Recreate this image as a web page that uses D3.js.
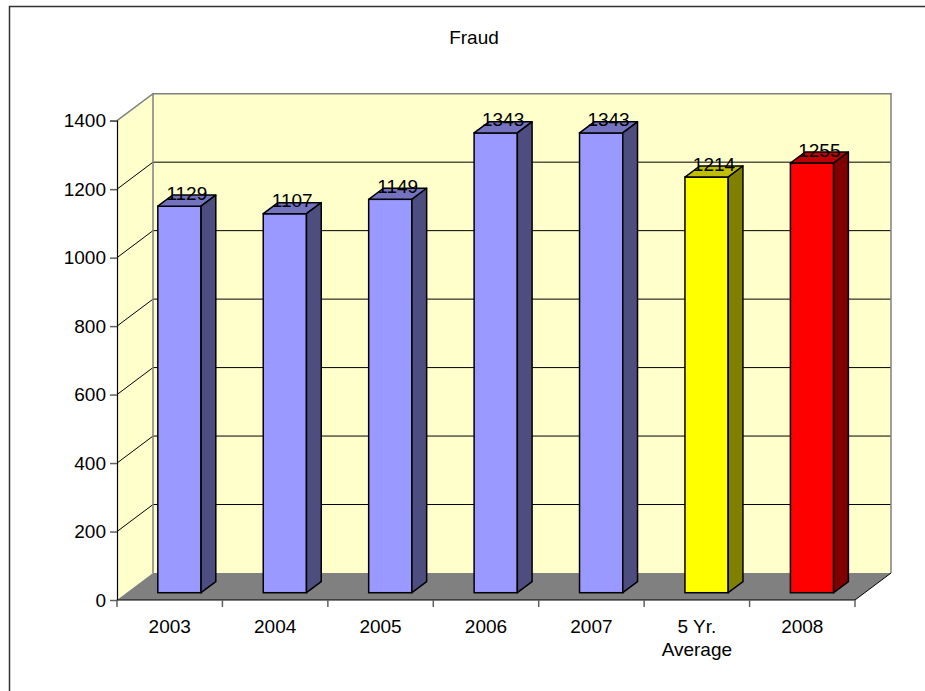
<!DOCTYPE html>
<html>
<head>
<meta charset="utf-8">
<script src="https://cdn.jsdelivr.net/npm/d3@7/dist/d3.min.js"></script>
<style>
  html, body { margin: 0; padding: 0; background: #fff; }
  svg { display: block; font-family: "Liberation Sans", Arial, sans-serif; }
</style>
</head>
<body>
<svg id="chart" width="925" height="691"></svg>
<script>
const title = "Fraud";
const categories = ["2003", "2004", "2005", "2006", "2007", "5 Yr.\nAverage", "2008"];
const values = [1129, 1107, 1149, 1343, 1343, 1214, 1255];
const frontColors = ["#9999FF", "#9999FF", "#9999FF", "#9999FF", "#9999FF", "#FFFF00", "#FF0000"];
const topColors = ["#7373BF", "#7373BF", "#7373BF", "#7373BF", "#7373BF", "#BFBF00", "#BF0000"];
const sideColors = ["#4D4D80", "#4D4D80", "#4D4D80", "#4D4D80", "#4D4D80", "#808000", "#800000"];
const yTicks = [0, 200, 400, 600, 800, 1000, 1200, 1400];

const svg = d3.select("#chart");
const FS = 19;

// outer border
svg.append("rect").attr("x", 9.5).attr("y", 6.5).attr("width", 1000).attr("height", 1000)
  .attr("fill", "none").attr("stroke", "#333").attr("stroke-width", 1.5);

// plot geometry
const x0 = 117, x1 = 855, yBottom = 600, yTop = 120.7;
const DX = 36, DY = 27;          // full depth offset
const z0 = 0.27, z1 = 0.68;      // bar depth range (fraction of full depth)

const x = d3.scaleBand().domain(categories).range([x0, x1]).paddingInner(0.59).paddingOuter(0.295);
const y = d3.scaleLinear().domain([0, 1400]).range([yBottom, yTop]);

const yMax = y(1400);

// side wall (left)
svg.append("polygon")
  .attr("points", [[x0, yBottom], [x0, yMax], [x0 + DX, yMax - DY], [x0 + DX, yBottom - DY]].map(p => p.join(",")).join(" "))
  .attr("fill", "#FFFFCC");
// back wall
svg.append("rect")
  .attr("x", x0 + DX).attr("y", yMax - DY)
  .attr("width", x1 - x0).attr("height", yBottom - yMax)
  .attr("fill", "#FFFFCC");

// gridlines on back wall and side wall
const grid = yTicks.filter(v => v > 0 && v < 1400);
svg.append("g").selectAll("line").data(grid).join("line")
  .attr("x1", x0 + DX).attr("x2", x1 + DX)
  .attr("y1", d => y(d) - DY).attr("y2", d => y(d) - DY)
  .attr("stroke", "#000").attr("stroke-width", 1);
svg.append("g").selectAll("line").data(grid).join("line")
  .attr("x1", x0).attr("x2", x0 + DX)
  .attr("y1", d => y(d)).attr("y2", d => y(d) - DY)
  .attr("stroke", "#000").attr("stroke-width", 1);

// wall outlines (gray)
svg.append("path")
  .attr("d", `M${x0},${yMax} L${x0 + DX},${yMax - DY} L${x1 + DX},${yMax - DY} L${x1 + DX},${yBottom - DY} M${x0 + DX},${yMax - DY} L${x0 + DX},${yBottom - DY}`)
  .attr("fill", "none").attr("stroke", "#808080").attr("stroke-width", 1.5);

// floor
svg.append("polygon")
  .attr("points", [[x0, yBottom], [x1, yBottom], [x1 + DX, yBottom - DY], [x0 + DX, yBottom - DY]].map(p => p.join(",")).join(" "))
  .attr("fill", "#808080");
svg.append("line")
  .attr("x1", x1).attr("y1", yBottom).attr("x2", x1 + DX).attr("y2", yBottom - DY)
  .attr("stroke", "#000").attr("stroke-width", 1);

// bars
const data = categories.map((c, i) => ({ c, v: values[i], f: frontColors[i], t: topColors[i], s: sideColors[i] }));
const bw = x.bandwidth();
const ox = DX * z0, oy = DY * z0;
const dx = DX * (z1 - z0), dy = DY * (z1 - z0);

const bars = svg.append("g").selectAll("g").data(data).join("g");
bars.append("rect")
  .attr("x", d => x(d.c) + ox).attr("y", d => y(d.v) - oy)
  .attr("width", bw).attr("height", d => y(0) - y(d.v))
  .attr("fill", d => d.f).attr("stroke", "#000").attr("stroke-width", 1.5);
bars.append("polygon")
  .attr("points", d => {
    const L = x(d.c) + ox, R = L + bw, T = y(d.v) - oy;
    return [[L, T], [L + dx, T - dy], [R + dx, T - dy], [R, T]].map(p => p.join(",")).join(" ");
  })
  .attr("fill", d => d.t).attr("stroke", "#000").attr("stroke-width", 1.5).attr("stroke-linejoin", "round");
bars.append("polygon")
  .attr("points", d => {
    const R = x(d.c) + ox + bw, T = y(d.v) - oy, B = y(0) - oy;
    return [[R, T], [R + dx, T - dy], [R + dx, B - dy], [R, B]].map(p => p.join(",")).join(" ");
  })
  .attr("fill", d => d.s).attr("stroke", "#000").attr("stroke-width", 1.5).attr("stroke-linejoin", "round");

// value labels
bars.append("text")
  .attr("x", d => x(d.c) + ox + bw / 2 + dx / 2)
  .attr("y", d => y(d.v) - oy - dy / 2 - 1)
  .attr("text-anchor", "middle")
  .attr("font-size", FS)
  .attr("fill", "#000")
  .text(d => d.v);

// Y axis
const yAxis = svg.append("g").attr("transform", `translate(${x0},0)`)
  .call(d3.axisLeft(y).tickValues(yTicks).tickSize(7).tickPadding(4).tickFormat(d3.format("d")));
yAxis.select(".domain").attr("stroke", "#000").attr("stroke-width", 1.2);
yAxis.selectAll(".tick line").attr("stroke", "#606060").attr("stroke-width", 1.5);
yAxis.selectAll(".tick text").attr("font-size", FS).attr("fill", "#000")
  .attr("font-family", "Liberation Sans, Arial, sans-serif");

// X axis line
svg.append("line").attr("x1", x0).attr("x2", x1).attr("y1", yBottom).attr("y2", yBottom)
  .attr("stroke", "#000").attr("stroke-width", 1.2);
// boundary ticks
const step = x.step();
const bounds = d3.range(categories.length + 1).map(i => x(categories[0]) - (step - bw) / 2 + i * step);
svg.append("g").selectAll("line").data(bounds).join("line")
  .attr("x1", d => d).attr("x2", d => d)
  .attr("y1", yBottom).attr("y2", yBottom + 7)
  .attr("stroke", "#606060").attr("stroke-width", 1.5);
// category labels
const xl = svg.append("g").selectAll("text").data(categories).join("text")
  .attr("x", d => x(d) + bw / 2)
  .attr("y", yBottom + 33)
  .attr("text-anchor", "middle")
  .attr("font-size", FS)
  .attr("fill", "#000");
xl.each(function (d) {
  const lines = d.split("\n");
  d3.select(this).selectAll("tspan").data(lines).join("tspan")
    .attr("x", x(d) + bw / 2)
    .attr("dy", (l, i) => i === 0 ? 0 : 23)
    .text(l => l);
});

// title
svg.append("text").attr("x", 474).attr("y", 44).attr("text-anchor", "middle")
  .attr("font-size", FS).attr("fill", "#000").text(title);
</script>
</body>
</html>
